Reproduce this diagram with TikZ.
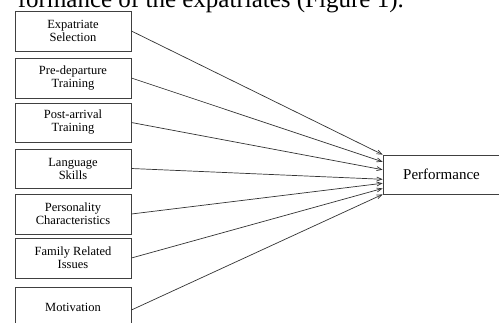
\documentclass[tikz,border=0pt]{standalone}
\usepackage{fontspec}
\setmainfont{Liberation Serif}
\usetikzlibrary{arrows.meta,calc}
\begin{document}
\begin{tikzpicture}[x=1pt,y=-1pt,
  factor/.style={draw=black!75,line width=0.8pt,minimum width=116pt,minimum height=40pt,
    align=center,inner sep=0pt,font=\fontsize{12.5}{13}\selectfont},
  outbox/.style={draw=black!75,line width=0.8pt,minimum width=117pt,minimum height=39pt,
    inner sep=0pt,font=\fontsize{15}{16}\selectfont},
  link/.style={draw=black!80,line width=0.7pt,-{Straight Barb[length=5pt,width=4pt]}}]
\clip (0,0) rectangle (499,322);
\fill[white] (0,0) rectangle (499,322);
\node[anchor=base east,inner sep=0pt,font=\fontsize{25}{26}\selectfont] (caption) at (404,7.5) {formance of the expatriates (Figure 1).};
\node[factor] (f1) at (73,31) {Expatriate\\Selection};
\node[factor] (f2) at (73,78) {Pre-departure\\Training};
\node[factor,minimum height=39pt] (f3) at (73,122.5) {Post-arrival\\Training};
\node[factor,minimum height=39pt] (f4) at (73,168.5) {Language\\Skills};
\node[factor] (f5) at (73,214) {Personality\\Characteristics};
\node[factor] (f6) at (73,258) {Family Related\\Issues};
\node[factor] (f7) at (73,307) {Motivation};
\node[outbox] (perf) at (441.5,174.5) {Performance};
\draw[link] (f1.east) -- ($(perf.north west)!0.0!(perf.south west)$);
\draw[link] (f2.east) -- ($(perf.north west)!0.18!(perf.south west)$);
\draw[link] (f3.east) -- ($(perf.north west)!0.38!(perf.south west)$);
\draw[link] (f4.east) -- ($(perf.north west)!0.62!(perf.south west)$);
\draw[link] (f5.east) -- ($(perf.north west)!0.72!(perf.south west)$);
\draw[link] (f6.east) -- ($(perf.north west)!0.85!(perf.south west)$);
\draw[link] ([yshift=-3pt]f7.east) -- ($(perf.north west)!1.0!(perf.south west)$);
\end{tikzpicture}
\end{document}
